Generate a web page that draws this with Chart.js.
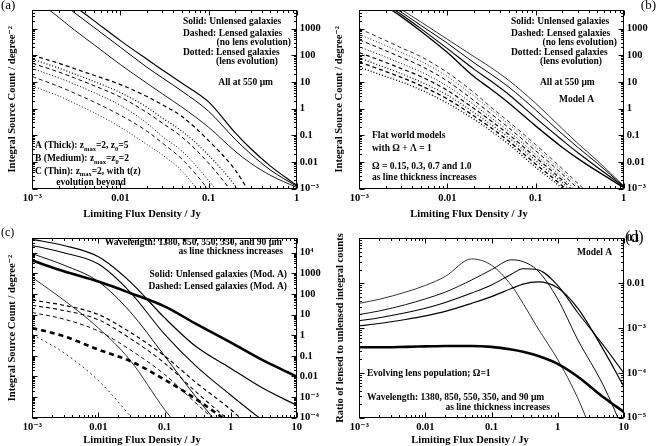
<!DOCTYPE html>
<html><head><meta charset="utf-8">
<script src="https://cdn.jsdelivr.net/npm/chart.js@4.4.1/dist/chart.umd.min.js"></script>
<style>
html,body{margin:0;padding:0;background:#fff;width:657px;height:446px;overflow:hidden;position:relative}
canvas{position:absolute;display:block}
</style></head><body>
<canvas id="ca" style="left:0px;top:0px;width:328px;height:224px" width="328" height="224"></canvas>
<canvas id="cb" style="left:328px;top:0px;width:329px;height:224px" width="329" height="224"></canvas>
<canvas id="cc" style="left:0px;top:224px;width:328px;height:222px" width="328" height="222"></canvas>
<canvas id="cd" style="left:328px;top:224px;width:329px;height:222px" width="329" height="222"></canvas>
<script>
// ===================== DATA (values are log10 of the plotted quantity) =====================
// ---- Panel (a): 550 um, models A/B/C ----
const aFlux = [0.001, 0.002, 0.003, 0.005, 0.01, 0.02, 0.03, 0.05, 0.1, 0.2, 0.3, 0.5, 1];
const aUnlensedALog = [5.0, 4.3, 3.85, 3.3, 2.55, 1.85, 1.45, 0.95, 0.25, -0.9, -1.5, -2.15, -2.88];
const aUnlensedBLog = [4.75, 4.05, 3.6, 3.05, 2.3, 1.55, 1.15, 0.65, -0.1, -1.15, -1.7, -2.3, -2.92];
const aUnlensedCLog = [4.2, 3.42, 2.95, 2.4, 1.65, 0.95, 0.55, 0.05, -0.7, -1.6, -2.05, -2.5, -2.96];
const aLensedNoEvoALog = [2.0, 1.7, 1.5, 1.25, 0.9, 0.45, 0.14, -0.3, -1.2, -2.3, -3.2, -4.2, -5.5];
const aLensedEvoALog = [1.85, 1.52, 1.3, 1.02, 0.6, 0.05, -0.36, -0.85, -1.75, -2.9, -3.8, -4.8, -6];
const aLensedNoEvoBLog = [1.7, 1.37, 1.15, 0.86, 0.43, -0.15, -0.55, -1.07, -2.05, -3.3, -4.2, -5.2, -6.5];
const aLensedEvoBLog = [1.5, 1.15, 0.92, 0.6, 0.12, -0.55, -1.05, -1.6, -2.7, -4.0, -5, -6, -7];
const aLensedNoEvoCLog = [1.2, 0.83, 0.58, 0.25, -0.25, -0.85, -1.3, -1.9, -3.05, -4.4, -5.3, -6.3, -7.5];
const aLensedEvoCLog = [0.85, 0.47, 0.2, -0.15, -0.7, -1.35, -1.74, -2.35, -3.6, -5, -6, -7, -8];
const abXTicks = [0.001, 0.01, 0.1, 1];
const abXLabels = ['10⁻³', '0.01', '0.1', '1'];
const abYTicks = [0.001, 0.01, 0.1, 1, 10, 100, 1000];
const abYLabels = ['10⁻³', '0.01', '0.1', '1', '10', '100', '1000'];

// ---- Panel (b): flat models, Omega = 0.15, 0.3, 0.7, 1.0 ----
const bFlux = [0.001, 0.002, 0.003, 0.005, 0.01, 0.02, 0.03, 0.05, 0.1, 0.2, 0.3, 0.5, 1];
const bUnlensed015Log = [4.75, 4.1, 3.72, 3.25, 2.6, 1.95, 1.58, 1.05, 0.2, -0.75, -1.3, -1.95, -2.9];
const bUnlensed03Log = [4.65, 4.0, 3.62, 3.12, 2.45, 1.72, 1.33, 0.8, -0.05, -0.95, -1.45, -2.05, -2.92];
const bUnlensed07Log = [4.6, 3.92, 3.53, 3.0, 2.25, 1.48, 1.07, 0.52, -0.35, -1.18, -1.65, -2.2, -2.94];
const bUnlensed10Log = [4.55, 3.85, 3.45, 2.9, 2.1, 1.2, 0.77, 0.2, -0.65, -1.45, -1.87, -2.35, -2.96];
const bNoEvo015Log = [3.0, 2.55, 2.28, 1.95, 1.35, 0.6, 0.1, -0.5, -1.35, -2.25, -2.8, -3.5, -4.5];
const bEvo015Log = [2.78, 2.36, 2.1, 1.78, 1.2, 0.47, 0.0, -0.6, -1.45, -2.35, -2.9, -3.6, -4.6];
const bNoEvo03Log = [2.58, 2.17, 1.92, 1.6, 1.03, 0.3, -0.15, -0.73, -1.58, -2.45, -3.0, -3.7, -4.7];
const bEvo03Log = [2.32, 1.93, 1.69, 1.38, 0.84, 0.14, -0.3, -0.86, -1.72, -2.58, -3.15, -3.85, -4.8];
const bNoEvo07Log = [2.1, 1.73, 1.5, 1.2, 0.68, 0.0, -0.42, -0.98, -1.83, -2.68, -3.25, -3.95, -5];
const bEvo07Log = [1.9, 1.53, 1.31, 1.0, 0.5, -0.15, -0.56, -1.1, -1.95, -2.78, -3.35, -4.05, -5];
const bNoEvo10Log = [1.75, 1.39, 1.17, 0.86, 0.36, -0.28, -0.68, -1.23, -2.08, -2.9, -3.5, -4.2, -5.2];
const bEvo10Log = [1.55, 1.2, 1.0, 0.7, 0.2, -0.4, -0.8, -1.35, -2.2, -3.0, -3.6, -4.3, -5.3];

// ---- Panel (c): wavelengths 1380, 850, 550, 350, 90 um ----
const cFlux = [0.001, 0.003, 0.01, 0.03, 0.1, 0.3, 1, 3, 10];
const cUnlensed1380Log = [2.8, 1.7, 0.35, -1.2, -3.6, -5.5, -8, -9, -10];
const cUnlensed850Log = [3.95, 3.4, 2.6, 1.15, -1.0, -3.0, -5.0, -6.5, -8];
const cUnlensed550Log = [4.35, 4.0, 3.45, 2.1, 0.05, -1.5, -2.9, -4.1, -5.2];
const cUnlensed350Log = [4.65, 4.35, 3.8, 2.6, 0.85, -0.55, -1.6, -2.55, -3.4];
const cUnlensed90Log = [3.62, 3.1, 2.6, 2.05, 1.4, 0.55, -0.35, -1.2, -2.0];
const cLensed1380Log = [0.04, -0.85, -2.2, -3.9, -6, -8, -9, -10, -11];
const cLensed850Log = [1.1, 0.78, 0.2, -0.7, -1.9, -3.3, -4.8, -6, -7.5];
const cLensed550Log = [1.45, 1.2, 0.75, -0.15, -1.35, -2.75, -4.2, -5.5, -7];
const cLensed350Log = [1.7, 1.45, 1.0, 0.15, -1.0, -2.3, -3.6, -5, -6.5];
const cLensed90Log = [0.35, -0.05, -0.7, -1.25, -2.15, -3.1, -4.3, -5.5, -6.5];
const cdXTicks = [0.001, 0.01, 0.1, 1, 10];
const cdXLabels = ['10⁻³', '0.01', '0.1', '1', '10'];
const cYTicks = [1e-4, 1e-3, 0.01, 0.1, 1, 10, 100, 1000, 1e4];
const cYLabels = ['10⁻⁴', '10⁻³', '0.01', '0.1', '1', '10', '100', '1000', '10⁴'];

// ---- Panel (d): ratio lensed / unlensed ----
const dFlux = [0.001, 0.002, 0.005, 0.01, 0.02, 0.05, 0.1, 0.2, 0.3, 0.5, 1, 2, 5, 10];
const dRatio1380Log = [-2.45, -2.36, -2.2, -2.05, -1.85, -1.46, -1.6, -2.05, -2.45, -3.0, -3.7, -4.55, -6, -7];
const dRatio850Log = [-2.7, -2.62, -2.48, -2.35, -2.2, -1.93, -1.7, -1.48, -1.52, -1.72, -2.35, -3.25, -4.3, -5.3];
const dRatio550Log = [-2.84, -2.77, -2.66, -2.56, -2.43, -2.22, -2.04, -1.8, -1.68, -1.7, -2.05, -2.65, -3.4, -4.0];
const dRatio350Log = [-2.95, -2.9, -2.81, -2.73, -2.63, -2.45, -2.3, -2.12, -2.02, -1.97, -2.1, -2.55, -3.5, -4.3];
const dRatio90Log = [-3.43, -3.43, -3.42, -3.41, -3.4, -3.4, -3.42, -3.48, -3.53, -3.62, -3.8, -4.08, -4.55, -4.87];
const dYTicks = [1e-5, 1e-4, 1e-3, 0.01, 0.1];
const dYLabels = ['10⁻⁵', '10⁻⁴', '10⁻³', '0.01', '0.1'];

// ===================== RENDERING =====================
const FONT = "'Liberation Serif', 'DejaVu Serif', serif";
const DASH = [4, 3];
const DOT = [1, 2];

function line(xs, logs, width, dash) {
  return {
    data: xs.map((x, i) => ({x: x, y: Math.pow(10, logs[i])})),
    borderColor: '#000', borderWidth: width, borderDash: dash || [],
    pointRadius: 0, fill: false, cubicInterpolationMode: 'monotone',
    xAxisID: 'x', yAxisID: 'y'
  };
}

function drawRich(ctx, x, y, align, parts, size, weight) {
  const segs = parts.map(p => {
    const t = typeof p === 'string' ? p : p[0];
    const m = typeof p === 'string' ? 'n' : p[1];
    const fs = m === 'n' ? size : size * 0.68;
    ctx.font = `${weight} ${fs}px ${FONT}`;
    return {t, m, fs, w: ctx.measureText(t).width};
  });
  const total = segs.reduce((s, g) => s + g.w, 0);
  let cx = align === 'right' ? x - total : (align === 'center' ? x - total / 2 : x);
  ctx.textBaseline = 'middle';
  ctx.textAlign = 'left';
  segs.forEach(g => {
    ctx.font = `${weight} ${g.fs}px ${FONT}`;
    const dy = g.m === 'sub' ? size * 0.3 : (g.m === 'sup' ? -size * 0.4 : 0);
    ctx.fillText(g.t, cx, y + dy);
    cx += g.w;
  });
}

const NOTES = {
  ca: [
    {x: 1, y: 6, a: 'left', s: 13, w: 'normal', p: ['(a)']},
    {x: 183, y: 22, a: 'left', p: ['Solid: Unlensed galaxies']},
    {x: 183, y: 34, a: 'left', p: ['Dashed: Lensed galaxies']},
    {x: 291, y: 43, a: 'right', p: ['(no lens evolution)']},
    {x: 183, y: 53, a: 'left', p: ['Dotted: Lensed galaxies']},
    {x: 278, y: 62, a: 'right', p: ['(lens evolution)']},
    {x: 273, y: 83, a: 'right', p: ['All at 550 μm']},
    {x: 35, y: 146, a: 'left', p: ['A (Thick): z', ['max', 'sub'], '=2, z', ['0', 'sub'], '=5']},
    {x: 35, y: 159, a: 'left', p: ['B (Medium): z', ['max', 'sub'], '=z', ['0', 'sub'], '=2']},
    {x: 35, y: 171.5, a: 'left', p: ['C (Thin): z', ['max', 'sub'], '=2, with t(z)']},
    {x: 91, y: 182.5, a: 'center', p: ['evolution beyond']},
    {x: 142, y: 214.5, a: 'center', s: 10.5, p: ['Limiting Flux Density / Jy']}
  ],
  cb: [
    {x: 328, y: 6, a: 'right', s: 13, w: 'normal', p: ['(b)']},
    {x: 183, y: 22, a: 'left', p: ['Solid: Unlensed galaxies']},
    {x: 183, y: 34, a: 'left', p: ['Dashed: Lensed galaxies']},
    {x: 289, y: 43, a: 'right', p: ['(no lens evolution)']},
    {x: 183, y: 53, a: 'left', p: ['Dotted: Lensed galaxies']},
    {x: 274, y: 62, a: 'right', p: ['(lens evolution)']},
    {x: 212, y: 83, a: 'left', p: ['All at 550 μm']},
    {x: 231, y: 100, a: 'left', p: ['Model A']},
    {x: 44, y: 136, a: 'left', p: ['Flat world models']},
    {x: 44, y: 149, a: 'left', p: ['with Ω + Λ = 1']},
    {x: 44, y: 166.5, a: 'left', p: ['Ω = 0.15, 0.3, 0.7 and 1.0']},
    {x: 44, y: 178, a: 'left', p: ['as line thickness increases']},
    {x: 141, y: 214.5, a: 'center', s: 10.5, p: ['Limiting Flux Density / Jy']}
  ],
  cc: [
    {x: 1, y: 9, a: 'left', s: 12, w: 'normal', p: ['(c)']},
    {x: 282, y: 19, a: 'right', p: ['Wavelength: 1380, 850, 550, 350, and 90 μm']},
    {x: 283, y: 27.5, a: 'right', p: ['as line thickness increases']},
    {x: 287, y: 51, a: 'right', p: ['Solid: Unlensed galaxies (Mod. A)']},
    {x: 287, y: 63, a: 'right', p: ['Dashed: Lensed galaxies (Mod. A)']},
    {x: 142, y: 216, a: 'center', s: 10.5, p: ['Limiting Flux Density / Jy']}
  ],
  cd: [
    {x: 297, y: 14, a: 'left', s: 16, w: 'normal', p: ['(d)']},
    {x: 249, y: 29, a: 'left', p: ['Model A']},
    {x: 39, y: 150, a: 'left', p: ['Evolving lens population; Ω=1']},
    {x: 39, y: 174, a: 'left', p: ['Wavelength: 1380, 850, 550, 350, and 90 μm']},
    {x: 222, y: 184, a: 'right', p: ['as line thickness increases']},
    {x: 142, y: 216, a: 'center', s: 10.5, p: ['Limiting Flux Density / Jy']}
  ]
};

const framePlugin = {
  id: 'frame',
  afterDatasetsDraw(chart) {
    const ctx = chart.ctx, a = chart.chartArea;
    const xs = chart.scales.x, ys = chart.scales.y;
    ctx.save();
    ctx.strokeStyle = '#000';
    ctx.lineWidth = 1;
    ctx.setLineDash([]);
    const L = Math.round(a.left) + 0.5, R = Math.round(a.right) - 0.5;
    const T = Math.round(a.top) + 0.5, B = Math.round(a.bottom) - 0.5;
    ctx.strokeRect(L, T, R - L, B - T);
    const each = (scale, cb) => {
      const lo = Math.floor(Math.log10(scale.min)), hi = Math.ceil(Math.log10(scale.max));
      for (let d = lo; d <= hi; d++) {
        for (let k = 1; k <= 9; k++) {
          const v = k * Math.pow(10, d);
          if (v < scale.min * 0.999 || v > scale.max * 1.001) continue;
          cb(Math.round(scale.getPixelForValue(v)) + 0.5, k === 1);
        }
      }
    };
    ctx.beginPath();
    each(xs, (p, major) => {
      const len = major ? 5 : 2.5;
      ctx.moveTo(p, B); ctx.lineTo(p, B - len);
      ctx.moveTo(p, T); ctx.lineTo(p, T + len);
    });
    each(ys, (p, major) => {
      const len = major ? 5 : 2.5;
      ctx.moveTo(L, p); ctx.lineTo(L + len, p);
      ctx.moveTo(R, p); ctx.lineTo(R - len, p);
    });
    ctx.stroke();
    ctx.restore();
  }
};

const notesPlugin = {
  id: 'notes',
  afterDraw(chart) {
    const items = NOTES[chart.canvas.id] || [];
    const ctx = chart.ctx;
    ctx.save();
    ctx.fillStyle = '#000';
    items.forEach(n => drawRich(ctx, n.x, n.y, n.a, n.p, n.s || 9.5, n.w || 'bold'));
    ctx.restore();
  }
};

function makeChart(id, cfg) {
  const tickFont = {family: FONT, size: 10.5, weight: 'bold'};
  return new Chart(document.getElementById(id), {
    type: 'line',
    data: {datasets: cfg.datasets},
    options: {
      responsive: false, animation: false, events: [],
      layout: {padding: {top: cfg.padTop, left: 0, right: 0, bottom: 0}},
      plugins: {legend: {display: false}, tooltip: {enabled: false}},
      scales: {
        x: {
          type: 'logarithmic', position: 'bottom', min: cfg.xMin, max: cfg.xMax,
          afterBuildTicks: s => { s.ticks = cfg.xTicks.map(v => ({value: v})); },
          afterFit: s => { s.height = cfg.xAxisH; },
          grid: {display: false, drawTicks: false}, border: {display: false},
          ticks: {autoSkip: false, maxRotation: 0, minRotation: 0, padding: 3, color: '#000', font: tickFont,
                  callback: (v, i) => cfg.xLabels[i]}
        },
        y: {
          type: 'logarithmic', position: 'right', min: cfg.yMin, max: cfg.yMax,
          afterBuildTicks: s => { s.ticks = cfg.yTicks.map(v => ({value: v})); },
          afterFit: s => { s.width = cfg.rightW; },
          grid: {display: false, drawTicks: false}, border: {display: false},
          ticks: {autoSkip: false, padding: 3, color: '#000', font: tickFont,
                  callback: (v, i) => cfg.yLabels[i]}
        },
        yt: {
          type: 'linear', position: 'left',
          afterFit: s => { s.width = cfg.leftW; },
          grid: {display: false, drawTicks: false}, border: {display: false},
          ticks: {display: false},
          title: {display: true, text: cfg.yTitle, color: '#000',
                  font: {family: FONT, size: 10.5, weight: 'bold', lineHeight: 1},
                  padding: {top: cfg.yTitlePad, bottom: 0}}
        }
      }
    },
    plugins: [framePlugin, notesPlugin]
  });
}

const countTitle = 'Integral Source Count / degree⁻²';

makeChart('ca', {
  padTop: 10, xAxisH: 35.5, leftW: 32.3, rightW: 31.3, yTitlePad: 7.2,
  xMin: 0.001, xMax: 1, yMin: 0.001, yMax: 5000,
  xTicks: abXTicks, xLabels: abXLabels, yTicks: abYTicks, yLabels: abYLabels, yTitle: countTitle,
  datasets: [
    line(aFlux, aUnlensedALog, 1.2), line(aFlux, aUnlensedBLog, 1.0), line(aFlux, aUnlensedCLog, 0.9),
    line(aFlux, aLensedNoEvoALog, 1.2, DASH), line(aFlux, aLensedEvoALog, 1.2, DOT),
    line(aFlux, aLensedNoEvoBLog, 1.0, DASH), line(aFlux, aLensedEvoBLog, 1.0, DOT),
    line(aFlux, aLensedNoEvoCLog, 0.9, DASH), line(aFlux, aLensedEvoCLog, 0.9, DOT)
  ]
});

makeChart('cb', {
  padTop: 10, xAxisH: 35.5, leftW: 31.3, rightW: 33.3, yTitlePad: 6.2,
  xMin: 0.001, xMax: 1, yMin: 0.001, yMax: 5000,
  xTicks: abXTicks, xLabels: abXLabels, yTicks: abYTicks, yLabels: abYLabels, yTitle: countTitle,
  datasets: [
    line(bFlux, bUnlensed015Log, 0.8), line(bFlux, bUnlensed03Log, 1.0),
    line(bFlux, bUnlensed07Log, 1.15), line(bFlux, bUnlensed10Log, 1.35),
    line(bFlux, bNoEvo015Log, 0.8, DASH), line(bFlux, bEvo015Log, 0.8, DOT),
    line(bFlux, bNoEvo03Log, 1.0, DASH), line(bFlux, bEvo03Log, 1.0, DOT),
    line(bFlux, bNoEvo07Log, 1.15, DASH), line(bFlux, bEvo07Log, 1.15, DOT),
    line(bFlux, bNoEvo10Log, 1.35, DASH), line(bFlux, bEvo10Log, 1.35, DOT)
  ]
});

makeChart('cc', {
  padTop: 14.3, xAxisH: 28.3, leftW: 32.3, rightW: 31.3, yTitlePad: 6.8,
  xMin: 0.001, xMax: 10, yMin: 1e-4, yMax: 5e4,
  xTicks: cdXTicks, xLabels: cdXLabels, yTicks: cYTicks, yLabels: cYLabels, yTitle: countTitle,
  datasets: [
    line(cFlux, cUnlensed1380Log, 0.8), line(cFlux, cUnlensed850Log, 0.95),
    line(cFlux, cUnlensed550Log, 1.05), line(cFlux, cUnlensed350Log, 1.2),
    line(cFlux, cUnlensed90Log, 2.6),
    line(cFlux, cLensed1380Log, 0.8, [2, 3]), line(cFlux, cLensed850Log, 0.95, DASH),
    line(cFlux, cLensed550Log, 1.05, DASH), line(cFlux, cLensed350Log, 1.2, DASH),
    line(cFlux, cLensed90Log, 2.6, [5, 4])
  ]
});

makeChart('cd', {
  padTop: 14.3, xAxisH: 28.3, leftW: 31.3, rightW: 33.3, yTitlePad: 7.2,
  xMin: 0.001, xMax: 10, yMin: 1e-5, yMax: 0.1,
  xTicks: cdXTicks, xLabels: cdXLabels, yTicks: dYTicks, yLabels: dYLabels,
  yTitle: 'Ratio of lensed to unlensed integral counts',
  datasets: [
    line(dFlux, dRatio1380Log, 0.8), line(dFlux, dRatio850Log, 0.95),
    line(dFlux, dRatio550Log, 1.05), line(dFlux, dRatio350Log, 1.2),
    line(dFlux, dRatio90Log, 2.6)
  ]
});
</script>
</body></html>
